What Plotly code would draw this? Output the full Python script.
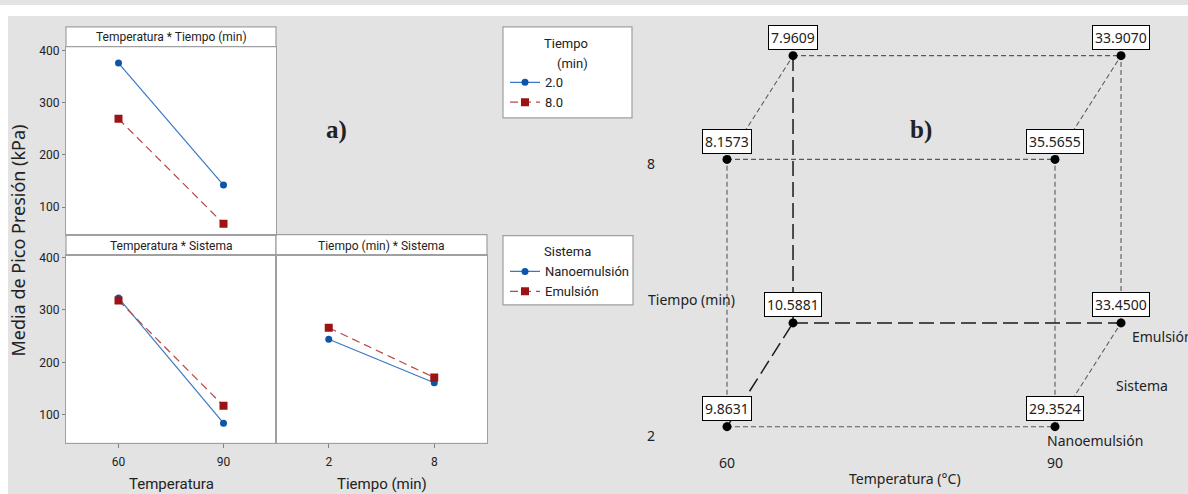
import plotly.graph_objects as go

# ---------------- data ----------------
temperatura = [60, 90]
tiempo = [2, 8]
tiempo_labels = ["2.0", "8.0"]
sistema = ["Nanoemulsión", "Emulsión"]

# interaction means of peak pressure (kPa)
temp_tiempo_2 = [376, 142]
temp_tiempo_8 = [269, 68]
temp_sistema_nano = [323, 84]
temp_sistema_emul = [318, 117]
tiempo_sistema_nano = [244, 161]
tiempo_sistema_emul = [266, 171]

y_ticks = [100, 200, 300, 400]

# cube values: rows = Tiempo (2, 8), columns = Temperatura (60, 90)
cube_nano = [[9.8631, 29.3524], [8.1573, 35.5655]]
cube_emul = [[10.5881, 33.4500], [7.9609, 33.9070]]
cube_values = [cube_nano, cube_emul]

# ---------------- layout helpers ----------------
W, H = 1188, 494


def fx(p):
    return p / W


def fy(p):
    return 1 - p / H


NARROW = "Roboto, Liberation Sans Narrow, sans-serif"
SANS = "Noto Sans, Open Sans, DejaVu Sans, sans-serif"
SERIF = "Liberation Serif, DejaVu Serif, serif"
TXT = "#222222"
FRAME = "#a0a0a0"
BG = "#e3e3e3"

BLUE_LINE, BLUE_MK = "#3a78c2", "#0d55a8"
RED_LINE, RED_MK = "#b5484a", "#9b1414"

fig = go.Figure()


def add_pair(xvals, ya, yb, xa, yax, names, legend, show):
    fig.add_trace(go.Scatter(
        x=xvals, y=ya, name=names[0], mode="lines+markers",
        line=dict(color=BLUE_LINE, width=1.2),
        marker=dict(symbol="circle", size=7, color=BLUE_MK),
        xaxis=xa, yaxis=yax, legend=legend, showlegend=show))
    fig.add_trace(go.Scatter(
        x=xvals, y=yb, name=names[1], mode="lines+markers",
        line=dict(color=RED_LINE, width=1.2, dash="8px,5px"),
        marker=dict(symbol="square", size=8, color=RED_MK),
        xaxis=xa, yaxis=yax, legend=legend, showlegend=show))


add_pair(temperatura, temp_tiempo_2, temp_tiempo_8, "x", "y", tiempo_labels, "legend", True)
add_pair(temperatura, temp_sistema_nano, temp_sistema_emul, "x2", "y2", sistema, "legend2", True)
add_pair(tiempo, tiempo_sistema_nano, tiempo_sistema_emul, "x3", "y3", sistema, "legend2", False)

# ---------------- cube plot ----------------
DEPTH_DX = 6.04   # horizontal offset of the back face (Temperatura units)
DEPTH_DY = 2.33   # vertical offset of the back face (Tiempo units)

verts = {}
for s_i in range(len(sistema)):
    for ti_i, ti in enumerate(tiempo):
        for te_i, te in enumerate(temperatura):
            verts[(te_i, ti_i, s_i)] = (te + s_i * DEPTH_DX, ti + s_i * DEPTH_DY,
                                        cube_values[s_i][ti_i][te_i])

hidden = (0, 0, 1)
short_x, short_y, long_x, long_y = [], [], [], []
keys = list(verts)
for i, a in enumerate(keys):
    for b in keys[i + 1:]:
        if sum(p != q for p, q in zip(a, b)) != 1:
            continue
        xs, ys = (long_x, long_y) if hidden in (a, b) else (short_x, short_y)
        xs += [verts[a][0], verts[b][0], None]
        ys += [verts[a][1], verts[b][1], None]

fig.add_trace(go.Scatter(x=short_x, y=short_y, mode="lines",
                         line=dict(color="#5a5a5a", width=1.1, dash="5px,3px"),
                         xaxis="x4", yaxis="y4", showlegend=False, hoverinfo="skip"))
fig.add_trace(go.Scatter(x=long_x, y=long_y, mode="lines",
                         line=dict(color="#1a1a1a", width=1.5, dash="15px,6px"),
                         xaxis="x4", yaxis="y4", showlegend=False, hoverinfo="skip"))
fig.add_trace(go.Scatter(x=[v[0] for v in verts.values()], y=[v[1] for v in verts.values()],
                         mode="markers", marker=dict(color="black", size=9),
                         xaxis="x4", yaxis="y4", showlegend=False))

annotations = []
for vx, vy, val in verts.values():
    annotations.append(dict(x=vx, y=vy, xref="x4", yref="y4", text=f"{val:.4f}",
                            showarrow=False, yshift=18, bgcolor="white",
                            bordercolor="black", borderwidth=1, borderpad=2,
                            font=dict(family=SANS, size=14, color=TXT)))


def label(text, x, y, size=14, family=SANS, **kw):
    d = dict(text=text, x=x, y=y, showarrow=False, xref="paper", yref="paper",
             xanchor="center", yanchor="middle",
             font=dict(family=family, size=size, color=TXT))
    d.update(kw)
    annotations.append(d)


# cube axis labels
label("8", fx(651), tiempo[1], yref="y4", yshift=-4)
label("2", fx(651), tiempo[0], yref="y4", yshift=-9)
label(str(temperatura[0]), temperatura[0], tiempo[0], xref="x4", yref="y4", yshift=-36)
label(str(temperatura[1]), temperatura[1], tiempo[0], xref="x4", yref="y4", yshift=-36)
label("Tiempo (min)", fx(691), fy(298))
label("Temperatura (°C)", sum(temperatura) / 2, fy(478), xref="x4", xshift=14)
label("Sistema", fx(1142), fy(384))
label("Emulsión", temperatura[1] + DEPTH_DX, tiempo[0] + DEPTH_DY, xref="x4", yref="y4",
      xanchor="left", xshift=9, yshift=-14)
label("Nanoemulsión", temperatura[1], tiempo[0], xref="x4", yref="y4",
      xanchor="left", xshift=-10, yshift=-14)

# panel labels
label("<b>a)</b>", fx(336), fy(126), size=25, family=SERIF)
label("<b>b)</b>", fx(921), fy(126), size=25, family=SERIF)

# left chart titles
label("Temperatura * Tiempo (min)", fx(171), fy(32), size=12, family=NARROW)
label("Temperatura * Sistema", fx(171), fy(243), size=12, family=NARROW)
label("Tiempo (min) * Sistema", fx(381.5), fy(243), size=12, family=NARROW)
label("Temperatura", fx(171), fy(484), size=15, family=NARROW)
label("Tiempo (min)", fx(381.5), fy(484), size=15, family=NARROW)
label("Media de Pico Presión (kPa)", fx(18), fy(238), size=18, textangle=-90)
label("Tiempo", fx(566), fy(39), size=13, family=NARROW)
label("(min)", fx(572), fy(59), size=13, family=NARROW)
label("Sistema", fx(567), fy(249), size=13, family=NARROW)

# ---------------- background shapes ----------------
def rect(x0, y0, x1, y1, fill="white", line=None):
    return dict(type="rect", xref="paper", yref="paper", layer="below",
                x0=fx(x0), x1=fx(x1), y0=fy(y1), y1=fy(y0), fillcolor=fill,
                line=dict(color=line or fill, width=1.2 if line else 0))


shapes = [
    rect(0, 0, W, 11),
    rect(0, 0, 8, H),
    rect(66, 42, 276, 232),
    rect(66, 253, 487, 442),
    rect(66, 22, 276, 42, line=FRAME),
    rect(66, 232, 276, 253, line=FRAME),
    rect(276, 232, 487, 253, line=FRAME),
    rect(503, 22, 632, 114, line=FRAME),
    rect(503, 233, 633, 303, line=FRAME),
]

axis_common = dict(showgrid=False, zeroline=False, showline=True, mirror=True,
                   linecolor=FRAME, linewidth=1.2, tickcolor="#808080",
                   tickfont=dict(family=NARROW, size=12, color=TXT))

fig.update_layout(
    width=W, height=H, margin=dict(l=0, r=0, t=0, b=0),
    paper_bgcolor=BG, plot_bgcolor="rgba(0,0,0,0)",
    shapes=shapes, annotations=annotations,
    xaxis=dict(axis_common, domain=[fx(66), fx(276)], range=[45, 105], anchor="y",
               showticklabels=False, ticks=""),
    yaxis=dict(axis_common, domain=[fy(232), fy(42)], range=[47, 407.6], anchor="x",
               tickvals=y_ticks, ticks="outside", ticklen=3),
    xaxis2=dict(axis_common, domain=[fx(66), fx(276)], range=[45, 105], anchor="y2",
                tickvals=temperatura, ticks="outside", ticklen=4, ticklabelstandoff=4),
    yaxis2=dict(axis_common, domain=[fy(442), fy(253)], range=[47, 404], anchor="x2",
                tickvals=y_ticks, ticks="outside", ticklen=3),
    xaxis3=dict(axis_common, domain=[fx(276), fx(487)], range=[-1, 11], anchor="y3",
                tickvals=tiempo, ticks="outside", ticklen=4, ticklabelstandoff=4),
    yaxis3=dict(axis_common, domain=[fy(442), fy(253)], range=[47, 404], anchor="x3",
                showticklabels=False, ticks=""),
    xaxis4=dict(domain=[fx(640), 1], range=[52.043, 102.165], visible=False, anchor="y4"),
    yaxis4=dict(domain=[0, 1], range=[0.4889, 11.4667], visible=False, anchor="x4"),
    legend=dict(x=fx(505), y=fy(63), xanchor="left", yanchor="top",
                bgcolor="rgba(0,0,0,0)", font=dict(family=NARROW, size=13, color=TXT)),
    legend2=dict(x=fx(505), y=fy(254), xanchor="left", yanchor="top",
                 bgcolor="rgba(0,0,0,0)", font=dict(family=NARROW, size=13, color=TXT)),
    hovermode=False,
)

fig.write_html("out.html")
